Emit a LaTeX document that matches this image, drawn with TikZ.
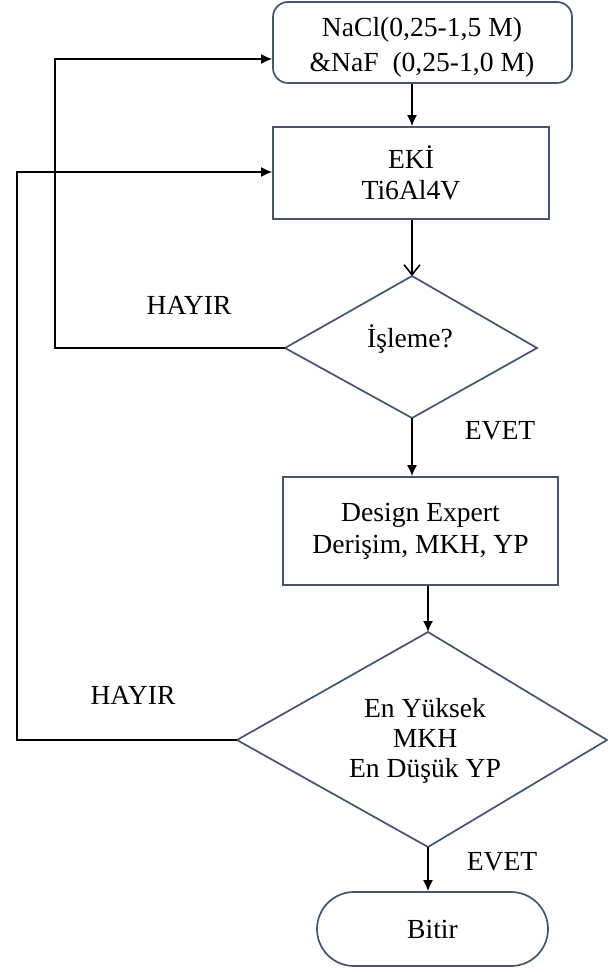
\documentclass[tikz,border=0pt]{standalone}
\usepackage{fontspec}
\setmainfont{Liberation Serif}
\usetikzlibrary{arrows.meta}
\definecolor{edge}{HTML}{44546A}
\begin{document}
\begin{tikzpicture}[x=0.5pt,y=-0.5pt,
  box/.style={draw=edge, line width=0.85pt, align=center, inner sep=0pt, font=\fontsize{13.8}{15.8}\selectfont},
  txt/.style={align=center, inner sep=0pt, font=\fontsize{13.8}{15}\selectfont},
  shapeline/.style={draw=edge, line width=0.85pt, line join=miter},
  arr/.style={draw=black, line width=0.8pt, -{Latex[length=5.5pt,width=5pt]}},
  oarr/.style={draw=black, line width=0.8pt, -{Straight Barb[length=5pt,width=8pt]}}]
\useasboundingbox (0,0) rectangle (608,972);

% boxes
\node[box, rounded corners=7.5pt, minimum width=149.5pt, minimum height=40.5pt] (n1) at (422.5,42.5) {};
\node[txt, font=\fontsize{13.8}{17.5}\selectfont] (n1text) at (422,47) {NaCl(0,25-1,5 M)\\\&NaF\ \ (0,25-1,0 M)};
\node[box, minimum width=138pt, minimum height=46pt] (n2) at (411,173) {EKİ\\Ti6Al4V};
\node[box, minimum width=137.5pt, minimum height=54pt] (n3) at (420.5,531) {Design Expert\\Derişim, MKH, YP};
\node[box, rounded corners=18.5pt, minimum width=115.5pt, minimum height=37pt] (n4) at (432.5,929) {Bitir};

% diamond 1
\coordinate (d1t) at (412,276);
\coordinate (d1l) at (285,348);
\coordinate (d1r) at (537,348);
\coordinate (d1b) at (412,418);
\draw[shapeline] (d1t) -- (d1r) -- (d1b) -- (d1l) -- cycle;
\node[txt] (d1text) at (410,339) {İşleme?};

% diamond 2
\coordinate (d2t) at (428,632);
\coordinate (d2l) at (237,740);
\coordinate (d2r) at (607,740);
\coordinate (d2b) at (428,847);
\draw[shapeline] (d2t) -- (d2r) -- (d2b) -- (d2l) -- cycle;
\node[txt] (d2text) at (425,741) {En Yüksek\\MKH\\En Düşük YP};

% main flow
\draw[arr] (n1.south -| d1t) -- (n2.north -| d1t);
\draw[oarr] (n2.south -| d1t) -- (d1t);
\draw[arr] (d1b) -- (n3.north -| d1b);
\draw[arr] (n3.south -| d2t) -- (d2t);
\draw[arr] (d2b) -- (n4.north -| d2b);

% loops
\coordinate (loop1) at (55,59);
\coordinate (loop2) at (17,172);
\draw[arr] (d1l) -| (loop1) -- (loop1 -| n1.west);
\draw[arr] (d2l) -| (loop2) -- (loop2 -| n2.west);

% labels
\node[txt] (h1) at (189,305) {HAYIR};
\node[txt] (h2) at (133,695) {HAYIR};
\node[txt] (e1) at (500,431) {EVET};
\node[txt] (e2) at (502,862) {EVET};
\end{tikzpicture}
\end{document}
